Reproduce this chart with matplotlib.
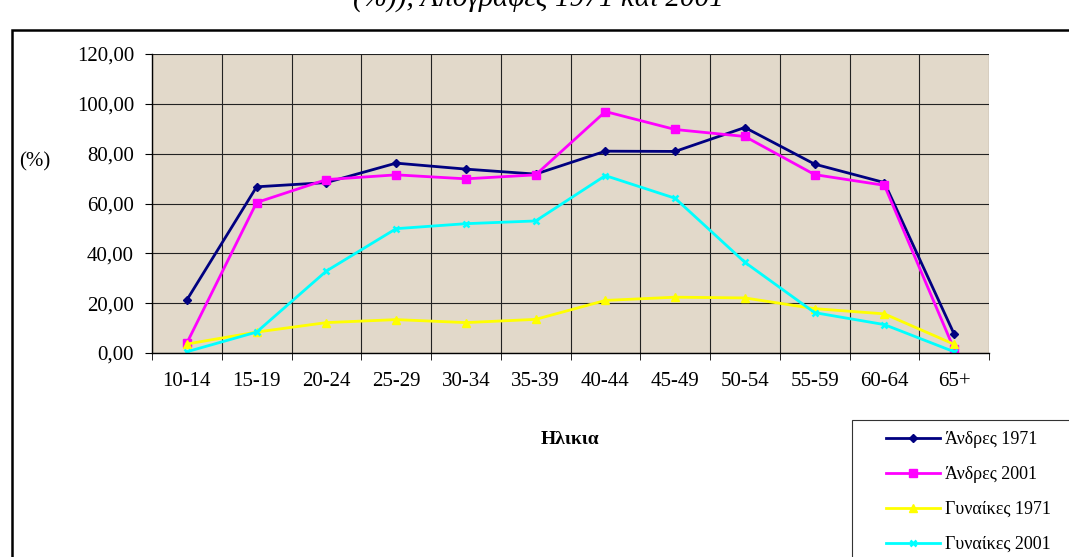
import matplotlib
matplotlib.use("Agg")
from matplotlib import pyplot as plt
from matplotlib.patches import Rectangle
from matplotlib.ticker import FuncFormatter, MultipleLocator

plt.rcParams['font.family'] = ['Liberation Serif', 'DejaVu Serif']

# data
ages = ["10-14", "15-19", "20-24", "25-29", "30-34", "35-39",
        "40-44", "45-49", "50-54", "55-59", "60-64", "65+"]
men_1971 = [21.3, 66.7, 68.4, 76.2, 73.8, 71.8, 81.0, 80.9, 90.5, 75.8, 68.4, 7.6]
men_2001 = [4.0, 60.4, 69.6, 71.5, 69.9, 71.5, 96.9, 89.7, 86.9, 71.6, 67.3, 1.5]
women_1971 = [3.6, 8.4, 12.2, 13.4, 12.2, 13.5, 21.1, 22.4, 22.1, 17.8, 15.7, 3.5]
women_2001 = [0.5, 8.4, 32.9, 49.9, 51.9, 53.0, 71.2, 62.1, 36.4, 16.2, 11.4, 0.5]
labels = ["Άνδρες 1971", "Άνδρες 2001", "Γυναίκες 1971", "Γυναίκες 2001"]

W, H = 1069, 557
fig = plt.figure(figsize=(W / 100, H / 100), dpi=100)

# outer chart frame (right/bottom edges fall outside the picture)
fig.patches.append(Rectangle((12 / W, -0.1), 1.2, 1 - 30 / H + 0.1,
                             transform=fig.transFigure, fill=False,
                             edgecolor='black', linewidth=1.8))
# title, mostly above the top edge like in the source
fig.text(538 / W, 1 + 2 / H, "(%)), Απογραφές 1971 και 2001", ha='center', va='center',
         fontsize=21, style='italic')

ax = fig.add_axes([152 / W, 1 - 353 / H, 837 / W, 299 / H])
ax.set_facecolor('#E2D9CA')

x = list(range(len(ages)))
ax.plot(x, men_1971, color='#000080', marker='D', markersize=4, linewidth=2, label=labels[0])
ax.plot(x, men_2001, color='#FF00FF', marker='s', markersize=6, linewidth=2, label=labels[1])
ax.plot(x, women_1971, color='#FFFF00', marker='^', markersize=6, linewidth=2, label=labels[2])
ax.plot(x, women_2001, color='#00FFFF', marker='x', markersize=5, markeredgewidth=1.8,
        linewidth=2, label=labels[3])

ax.set_xlim(-0.5, len(ages) - 0.5)
ax.set_ylim(0, 120)
ax.set_xticks(x)
ax.set_xticklabels(ages, fontsize=15)
ax.set_xticks([i - 0.5 for i in range(len(ages) + 1)], minor=True)
ax.tick_params(axis='x', which='major', length=0, pad=14)
ax.tick_params(axis='x', which='minor', length=5, direction='out')
ax.yaxis.set_major_locator(MultipleLocator(20))
ax.yaxis.set_major_formatter(FuncFormatter(lambda v, p: "{:.2f}".format(v).replace('.', ',')))
ax.tick_params(axis='y', labelsize=15, length=5, direction='out', pad=8)

ax.grid(True, which='major', axis='y', color='#222222', linewidth=0.8)
ax.grid(True, which='minor', axis='x', color='#222222', linewidth=0.8)
ax.set_axisbelow(True)
for s in ['top', 'right']:
    ax.spines[s].set_visible(False)
ax.spines['left'].set_linewidth(1)
ax.spines['bottom'].set_linewidth(1)

fig.text(35 / W, 1 - 162 / H, "(%)", fontsize=15, ha='center', va='center')
fig.text(570 / W, 1 - 440 / H, "Ηλικια", fontsize=14, fontweight='bold', ha='center',
         va='center')

# legend box drawn apart so the entries can sit well inside it
fig.patches.append(Rectangle((852 / W, -0.1), 0.5, 1 - 420 / H + 0.1,
                             transform=fig.transFigure, fill=False,
                             edgecolor='#333333', linewidth=0.8))
leg = fig.legend(loc='upper left', bbox_to_anchor=(886 / W, 1 - 431 / H), fontsize=13,
                 frameon=False, labelspacing=1.0, handlelength=3.0, borderpad=0,
                 handletextpad=0.25, borderaxespad=0)

fig.savefig("out.png", dpi=100)
